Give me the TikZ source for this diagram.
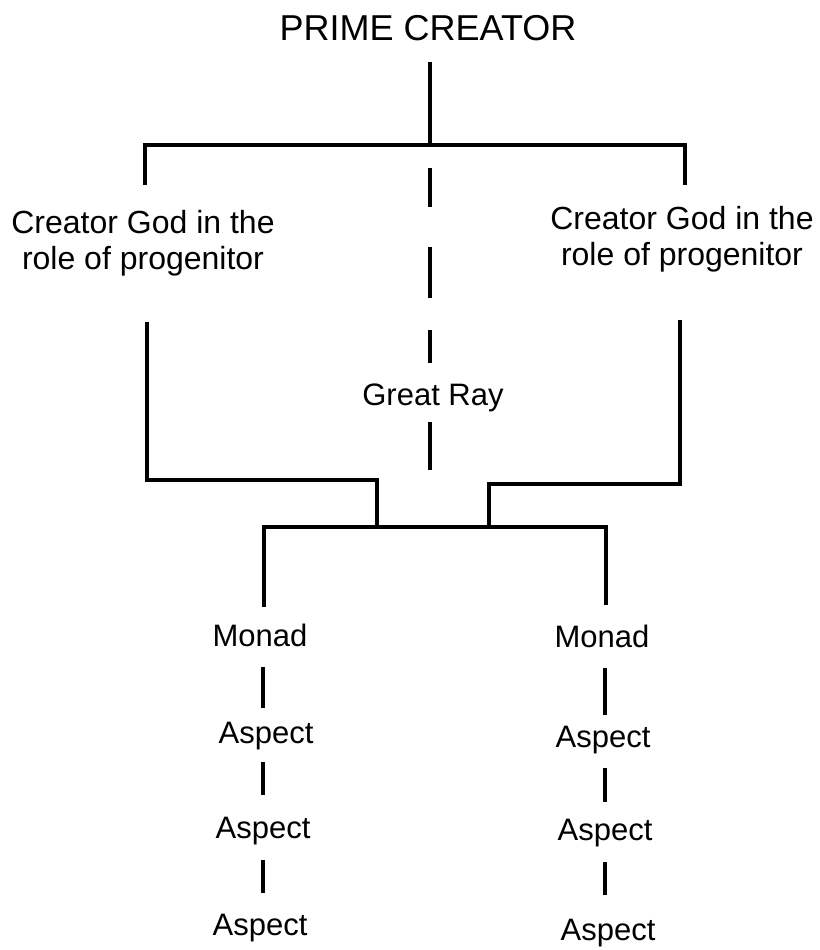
\documentclass[tikz,border=0pt]{standalone}
\usepackage{fontspec}
\setmainfont{Liberation Sans}
\begin{document}
\begin{tikzpicture}[x=1pt,y=-1pt,
  ln/.style={line width=3.6pt,black},
  ttl/.style={inner sep=0pt,anchor=base,font=\fontsize{36}{40}\selectfont},
  god/.style={inner sep=0pt,anchor=base,align=center,font=\fontsize{32}{36}\selectfont},
  lbl/.style={inner sep=0pt,anchor=base,font=\fontsize{31}{36}\selectfont}]
\useasboundingbox[fill=white] (0,0) rectangle (819,950);
% texts
\node[ttl] (prime) at (428,41) {PRIME CREATOR};
\node[god] (godL) at (143,269) {Creator God in the\\role of progenitor};
\node[god] (godR) at (682,265) {Creator God in the\\role of progenitor};
\node[lbl] (ray) at (433,405) {Great Ray};
\node[lbl] (monL) at (260,646) {Monad};
\node[lbl] (aL1) at (266,743) {Aspect};
\node[lbl] (aL2) at (263,838) {Aspect};
\node[lbl] (aL3) at (260,935) {Aspect};
\node[lbl] (monR) at (602,647) {Monad};
\node[lbl] (aR1) at (603,747) {Aspect};
\node[lbl] (aR2) at (605,840) {Aspect};
\node[lbl] (aR3) at (608,940) {Aspect};
% coordinates
\coordinate (stemT) at (430,62);
\coordinate (stemB) at (430,145);
\coordinate (barL) at (145,145);
\coordinate (barR) at (685,145);
\coordinate (dropL) at (145,185);
\coordinate (dropR) at (685,185);
\coordinate (upL) at (147,322);
\coordinate (elL) at (147,480);
\coordinate (jL) at (377,480);
\coordinate (jLb) at (377,527);
\coordinate (upR) at (680,320);
\coordinate (elR) at (680,484);
\coordinate (jR) at (489,484);
\coordinate (jRb) at (489,527);
\coordinate (lbL) at (264,527);
\coordinate (lbR) at (606,527);
\coordinate (lbLd) at (264,607);
\coordinate (lbRd) at (606,605);
% top
\draw[ln] (stemT) -- (stemB);
\draw[ln] (dropL) -- (barL) -- (barR) -- (dropR);
% great ray dashes
\draw[ln] (430,168) -- (430,207);
\draw[ln] (430,247) -- (430,298);
\draw[ln] (430,330) -- (430,363);
\draw[ln] (430,422) -- (430,470);
% elbows
\draw[ln] (upL) -- (elL) -- (jL) -- (jLb);
\draw[ln] (upR) -- (elR) -- (jR) -- (jRb);
\draw[ln] (lbLd) -- (lbL) -- (lbR) -- (lbRd);
% chains
\draw[ln] (263,667) -- (263,708);
\draw[ln] (263,762) -- (263,795);
\draw[ln] (263,860) -- (263,893);
\draw[ln] (605,668) -- (605,715);
\draw[ln] (605,768) -- (605,802);
\draw[ln] (605,862) -- (605,895);
\end{tikzpicture}
\end{document}
